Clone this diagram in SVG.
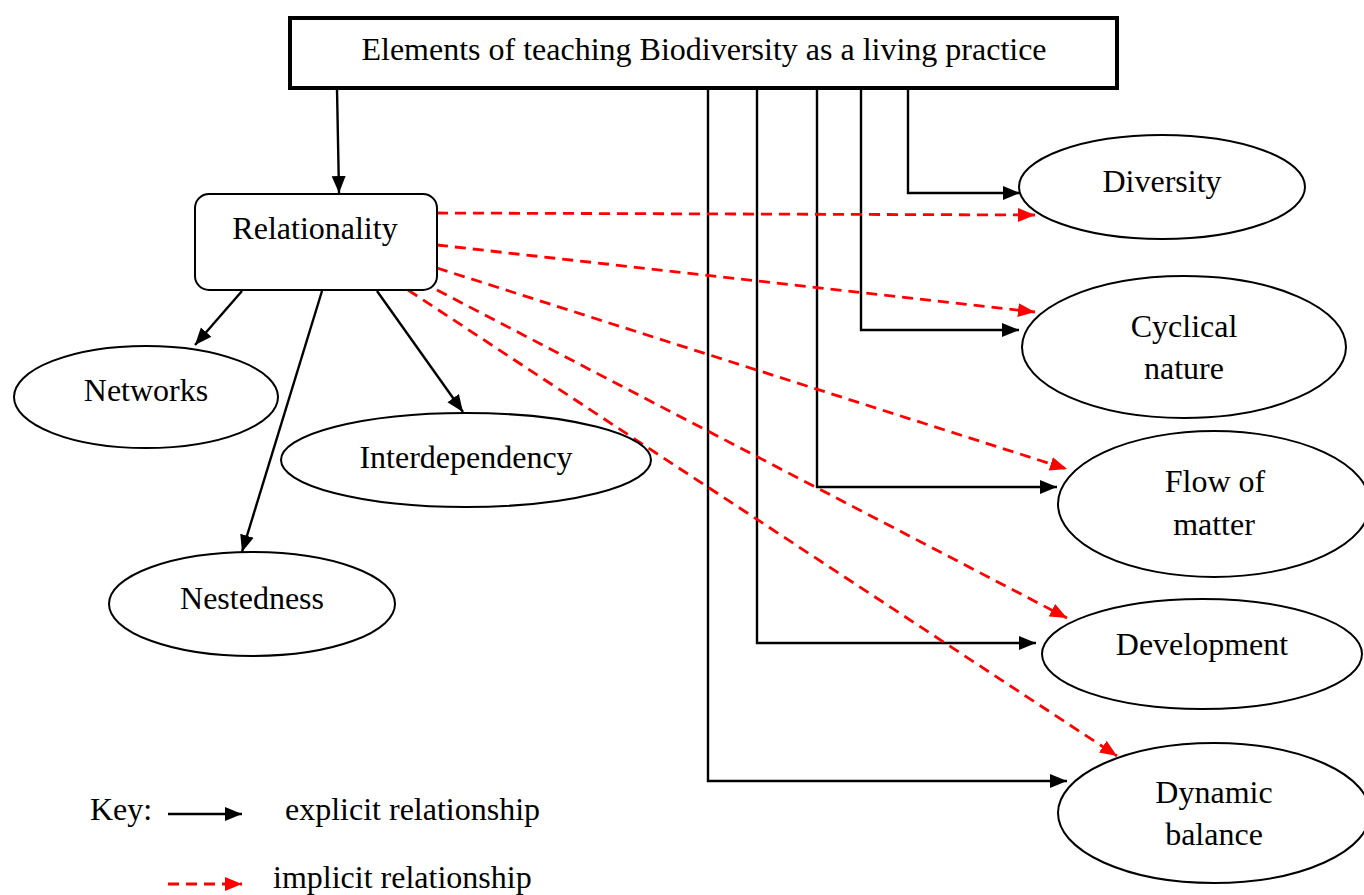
<svg xmlns="http://www.w3.org/2000/svg" width="1364" height="895" viewBox="0 0 1364 895">
  <style>
    text { font-family: "Liberation Serif", "Times New Roman", serif; font-size: 32px; fill: #000; }
    .mid { text-anchor: middle; }
    .node { fill: #fff; stroke: #000; stroke-width: 2; }
    .solid { fill: none; stroke: #000; stroke-width: 2.4; }
    .dash { fill: none; stroke: #ff0000; stroke-width: 2.8; stroke-dasharray: 11 7; }
  </style>
  <defs>
    <marker id="arrowBlack" markerUnits="userSpaceOnUse" markerWidth="18" markerHeight="16" refX="17" refY="8" orient="auto">
      <path d="M0,1 L17,8 L0,15 z" fill="#000"/>
    </marker>
    <marker id="arrowRed" markerUnits="userSpaceOnUse" markerWidth="18" markerHeight="16" refX="17" refY="8" orient="auto">
      <path d="M0,1 L17,8 L0,15 z" fill="#ff0000"/>
    </marker>
  </defs>
  <rect width="1364" height="895" fill="#fff"/>

  <!-- connectors -->
  <g id="connectors">
    <!-- title to Relationality -->
    <path class="solid" d="M337,89 L339,193" marker-end="url(#arrowBlack)"/>
    <!-- Relationality to its sub-elements -->
    <path class="solid" d="M242,291 L195,345" marker-end="url(#arrowBlack)"/>
    <path class="solid" d="M322,291 L242,552" marker-end="url(#arrowBlack)"/>
    <path class="solid" d="M377,291 L463,412" marker-end="url(#arrowBlack)"/>
    <!-- title to right-hand elements -->
    <path class="solid" d="M908,89 V193 H1020" marker-end="url(#arrowBlack)"/>
    <path class="solid" d="M861,89 V330 H1019" marker-end="url(#arrowBlack)"/>
    <path class="solid" d="M817,89 V487 H1057" marker-end="url(#arrowBlack)"/>
    <path class="solid" d="M757,89 V643 H1036" marker-end="url(#arrowBlack)"/>
    <path class="solid" d="M708,89 V781 H1067" marker-end="url(#arrowBlack)"/>
    <!-- implicit links from Relationality -->
    <path class="dash" d="M437,213 L1035,215" marker-end="url(#arrowRed)"/>
    <path class="dash" d="M437,245 L1035,312" marker-end="url(#arrowRed)"/>
    <path class="dash" d="M437,268 L1067,469" marker-end="url(#arrowRed)"/>
    <path class="dash" d="M437,290 L1067,618" marker-end="url(#arrowRed)"/>
    <path class="dash" d="M408,290 L1117,756" marker-end="url(#arrowRed)"/>
  </g>

  <g id="title">
    <rect x="290" y="18" width="827" height="70" fill="#fff" stroke="#000" stroke-width="4"/>
    <text class="mid" x="704" y="60">Elements of teaching Biodiversity as a living practice</text>
  </g>

  <g id="relationality">
    <rect class="node" x="195" y="194" width="242" height="96" rx="14"/>
    <text class="mid" x="315" y="239">Relationality</text>
  </g>

  <g id="networks">
    <ellipse class="node" cx="146" cy="397" rx="132" ry="51"/>
    <text class="mid" x="146" y="401">Networks</text>
  </g>

  <g id="interdependency">
    <ellipse class="node" cx="466" cy="460" rx="185" ry="47"/>
    <text class="mid" x="466" y="468">Interdependency</text>
  </g>

  <g id="nestedness">
    <ellipse class="node" cx="252" cy="604" rx="143" ry="52"/>
    <text class="mid" x="252" y="609">Nestedness</text>
  </g>

  <g id="diversity">
    <ellipse class="node" cx="1162" cy="187" rx="143" ry="52"/>
    <text class="mid" x="1162" y="192">Diversity</text>
  </g>

  <g id="cyclical-nature">
    <ellipse class="node" cx="1184" cy="347" rx="162" ry="71"/>
    <text class="mid" x="1184" y="337">Cyclical</text>
    <text class="mid" x="1184" y="379">nature</text>
  </g>

  <g id="flow-of-matter">
    <ellipse class="node" cx="1214" cy="504" rx="156" ry="73"/>
    <text class="mid" x="1215" y="492">Flow of</text>
    <text class="mid" x="1214" y="535">matter</text>
  </g>

  <g id="development">
    <ellipse class="node" cx="1202" cy="654" rx="160" ry="55"/>
    <text class="mid" x="1202" y="655">Development</text>
  </g>

  <g id="dynamic-balance">
    <ellipse class="node" cx="1214" cy="813" rx="156" ry="70"/>
    <text class="mid" x="1214" y="803">Dynamic</text>
    <text class="mid" x="1214" y="845">balance</text>
  </g>

  <g id="key">
    <text x="90" y="820">Key:</text>
    <path class="solid" d="M168,814 L242,814" marker-end="url(#arrowBlack)"/>
    <text x="285" y="820">explicit relationship</text>
    <path class="dash" d="M168,884 L242,884" marker-end="url(#arrowRed)"/>
    <text x="273" y="888">implicit relationship</text>
  </g>
</svg>
